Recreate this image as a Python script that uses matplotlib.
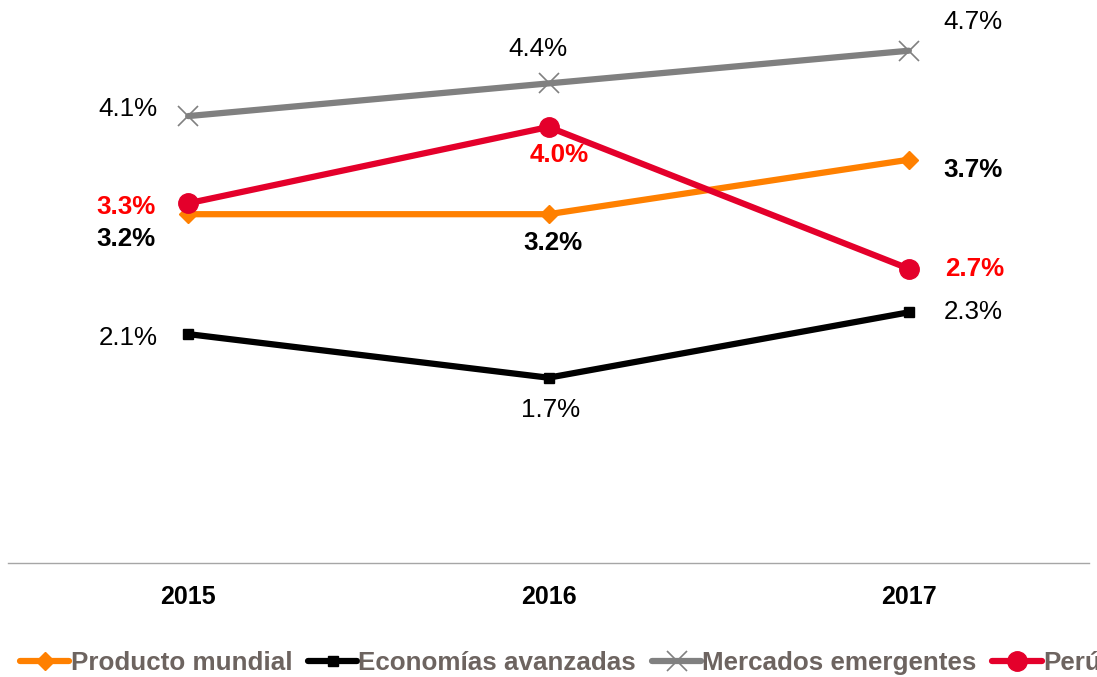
import matplotlib.pyplot as plt

plt.rcParams['font.family'] = ['Liberation Sans', 'DejaVu Sans']

years = ['2015', '2016', '2017']
producto_mundial = [3.2, 3.2, 3.7]
economias_avanzadas = [2.1, 1.7, 2.3]
mercados_emergentes = [4.1, 4.4, 4.7]
peru = [3.3, 4.0, 2.7]

fig = plt.figure(figsize=(10.97, 6.77), dpi=100)
ax = fig.add_axes([8 / 1097, 114 / 677, 1081 / 1097, 545 / 677])

x = list(range(len(years)))

series = [
    # values, label, line colour, marker, marker size, text colour, bold, label offsets (px)
    (producto_mundial, 'Producto mundial', '#ff8000', 'D', 9, 'black', True,
     [(-62, -25), (4, -29), (64, -10)]),
    (economias_avanzadas, 'Economías avanzadas', 'black', 's', 7, 'black', False,
     [(-60, -4), (2, -32), (64, 0)]),
    (mercados_emergentes, 'Mercados emergentes', '#808080', 'x', 14, 'black', False,
     [(-60, 7), (-11, 34), (64, 29)]),
    (peru, 'Perú', '#e4002b', 'o', 14, '#ff0000', True,
     [(-62, -4), (11, -28), (66, 0)]),
]

for vals, name, col, mk, ms, tcol, bold, offs in series:
    if mk == 'x':
        ax.plot(x, vals, color=col, lw=4.5, marker=mk, ms=ms, mew=1.2,
                label=name, zorder=3, solid_capstyle='round')
    else:
        ax.plot(x, vals, color=col, lw=4.5, marker=mk, ms=ms,
                label=name, zorder=3, solid_capstyle='round')
    for xi, v, off in zip(x, vals, offs):
        ax.annotate(f'{v:.1f}%', (xi, v), xytext=off, textcoords='offset pixels',
                    ha='center', va='center', fontsize=18.7, color=tcol,
                    fontweight='bold' if bold else 'normal', zorder=4)

ax.set_xlim(-0.5, 2.5)
ax.set_ylim(0, 5)
ax.set_xticks(x)
ax.set_xticklabels(years, fontsize=18, fontweight='bold')
ax.tick_params(axis='x', length=0, pad=16)
ax.set_yticks([])
for s in ['top', 'left', 'right']:
    ax.spines[s].set_visible(False)
ax.spines['bottom'].set_color('#a6a6a6')
ax.spines['bottom'].set_linewidth(1)

# legend runs past the right edge, as in the original
leg = fig.legend(loc='center left', bbox_to_anchor=(20 / 1097, 14 / 677), ncol=4,
                 frameon=False, handlelength=1.9, handletextpad=0.05,
                 columnspacing=0.6, borderaxespad=0, borderpad=0,
                 prop={'size': 18.7, 'weight': 'bold'})
for t in leg.get_texts():
    t.set_color('#6d6460')

fig.savefig('out.png', dpi=100)
